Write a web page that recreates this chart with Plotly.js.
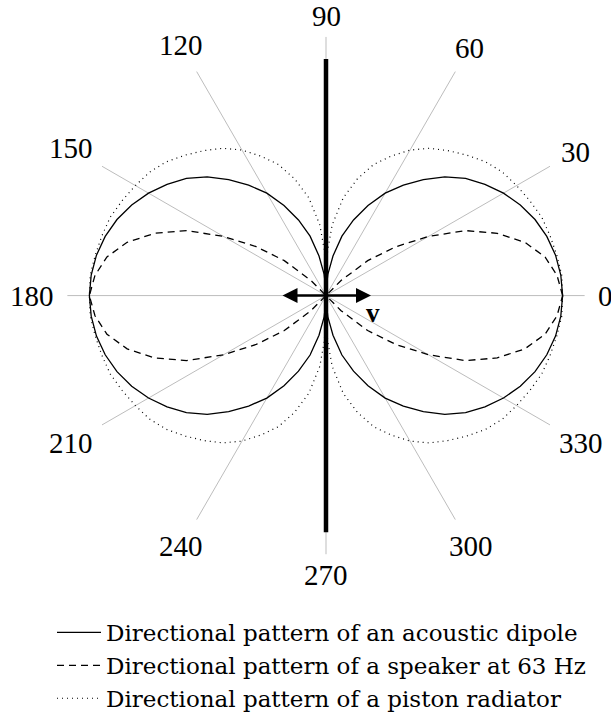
<!DOCTYPE html>
<html>
<head>
<meta charset="utf-8">
<script src="https://cdn.plot.ly/plotly-3.0.1.min.js"></script>
<style>
  html, body { margin: 0; padding: 0; background: #fff; }
  #chart { width: 611px; height: 720px; }
</style>
</head>
<body>
<div id="chart"></div>
<script>
// Angles (degrees) of one quadrant; the patterns are symmetric about both axes.
const quadrantAngles = [0, 5, 10, 15, 20, 25, 30, 35, 40, 45, 50, 55, 60, 65, 70, 75, 80, 85, 88, 90];

// Relative radiated level (1 = on-axis maximum) for each quadrant angle.
const dipoleLevel  = [1.00, 0.996, 0.985, 0.966, 0.94, 0.906, 0.866, 0.82, 0.77, 0.71, 0.64, 0.57, 0.50, 0.42, 0.34, 0.26, 0.17, 0.09, 0.03, 0.00];
const speakerLevel = [1.00, 0.98, 0.94, 0.87, 0.77, 0.65, 0.50, 0.36, 0.23, 0.09, 0.00, 0.00, 0.00, 0.00, 0.00, 0.00, 0.00, 0.00, 0.00, 0.00];
const pistonLevel  = [1.00, 1.00, 0.99, 0.98, 0.97, 0.95, 0.93, 0.91, 0.88, 0.84, 0.80, 0.76, 0.71, 0.65, 0.59, 0.51, 0.42, 0.30, 0.19, 0.00];

const seriesNames = [
  'Directional pattern of an acoustic dipole',
  'Directional pattern of a speaker at 63 Hz',
  'Directional pattern of a piston radiator'
];

// Angular grid / tick labels
const tickAngles = [0, 30, 60, 90, 120, 150, 180, 210, 240, 270, 300, 330];
const tickLabels = ['0', '30', '60', '90', '120', '150', '180', '210', '240', '270', '300', '330'];

// Baffle drawn along the 90°–270° axis, length in the same relative units
const baffleLength = 1.0;
// Half-length of the velocity arrow, relative units
const velocityArrow = 0.19;

// Expand a quadrant (0..90) into the full 0..360 curve by mirror symmetry.
function fullCircle(angles, values) {
  const th = [], r = [];
  for (let i = 0; i < angles.length; i++) { th.push(angles[i]); r.push(values[i]); }
  for (let i = angles.length - 2; i >= 0; i--) { th.push(180 - angles[i]); r.push(values[i]); }
  for (let i = 1; i < angles.length; i++) { th.push(180 + angles[i]); r.push(values[i]); }
  for (let i = angles.length - 2; i >= 0; i--) { th.push(360 - angles[i]); r.push(values[i]); }
  return { th, r };
}

const dip = fullCircle(quadrantAngles, dipoleLevel);
const spk = fullCircle(quadrantAngles, speakerLevel);
const pis = fullCircle(quadrantAngles, pistonLevel);

const serif = 'Liberation Serif, DejaVu Serif, serif';
const legendSerif = 'DejaVu Serif, Liberation Serif, serif';
const tickSize = 29;

const traces = [
  { type: 'scatterpolar', mode: 'lines', r: dip.r, theta: dip.th, name: seriesNames[0],
    line: { color: '#000', width: 1.3 } },
  { type: 'scatterpolar', mode: 'lines', r: spk.r, theta: spk.th, name: seriesNames[1],
    line: { color: '#000', width: 1.3, dash: '7px,5px' } },
  { type: 'scatterpolar', mode: 'lines', r: pis.r, theta: pis.th, name: seriesNames[2],
    line: { color: '#000', width: 1.2, dash: '1px,4px' } },
  { type: 'scatterpolar', mode: 'lines', r: [baffleLength, 0, baffleLength], theta: [90, 90, 270],
    showlegend: false, hoverinfo: 'skip', line: { color: '#000', width: 4.5 } }
];

// Polar area geometry (paper fractions)
const W = 611, H = 720;
const domX = [67 / W, 585 / W];
const domY = [165 / H, 683 / H];
const rMax = 1.093;
const cx = (domX[0] + domX[1]) / 2;
const cy = (domY[0] + domY[1]) / 2;
const outerPx = (domX[1] - domX[0]) * W / 2;
const pxPerUnit = outerPx / rMax;
const arrowPx = velocityArrow * pxPerUnit;

// Angle labels sit just outside the grid circle: each label box is pushed
// out far enough that it clears a circle slightly larger than the grid.
const labelGap = 13;
const digitW = 0.5 * tickSize;
const halfH = 8;
const angleLabels = tickAngles.map((a, i) => {
  const rad = a * Math.PI / 180;
  const c = Math.cos(rad), s = Math.sin(rad);
  const halfW = tickLabels[i].length * digitW / 2;
  const d = outerPx + labelGap + halfW * Math.abs(c) + halfH * Math.abs(s);
  return {
    xref: 'paper', yref: 'paper', x: cx + d * c / W, y: cy + d * s / H,
    xanchor: 'center', yanchor: 'middle', showarrow: false,
    text: tickLabels[i], font: { family: serif, size: tickSize, color: '#000' }
  };
});

const layout = {
  width: W, height: H,
  margin: { l: 0, r: 0, t: 0, b: 0 },
  paper_bgcolor: '#fff',
  showlegend: true,
  legend: {
    x: 52 / W, y: 1 - 612 / H, xanchor: 'left', yanchor: 'top',
    font: { family: legendSerif, size: 23, color: '#000' },
    bgcolor: 'rgba(0,0,0,0)', tracegroupgap: 0, itemwidth: 44
  },
  polar: {
    domain: { x: domX, y: domY },
    bgcolor: '#fff',
    angularaxis: {
      rotation: 0, direction: 'counterclockwise',
      tickmode: 'array', tickvals: tickAngles, ticktext: tickLabels,
      showticklabels: false, showline: false, ticks: '',
      showgrid: true, gridcolor: '#bdbdbd', gridwidth: 1
    },
    radialaxis: { visible: false, range: [0, rMax] }
  },
  annotations: angleLabels.concat([
    {
      xref: 'paper', yref: 'paper', x: cx + arrowPx / W, y: cy,
      axref: 'pixel', ayref: 'pixel', ax: -2 * arrowPx, ay: 0,
      text: '', showarrow: true, arrowside: 'end+start',
      arrowhead: 2, startarrowhead: 2, arrowsize: 1.2, startarrowsize: 1.2,
      arrowwidth: 2.5, arrowcolor: '#000'
    },
    {
      xref: 'paper', yref: 'paper', x: cx + (arrowPx + 2) / W, y: cy - 17 / H,
      text: '<b>v</b>', showarrow: false,
      font: { family: serif, size: 27, color: '#000' }
    }
  ])
};

Plotly.newPlot('chart', traces, layout, { displayModeBar: false, staticPlot: true });
</script>
</body>
</html>
